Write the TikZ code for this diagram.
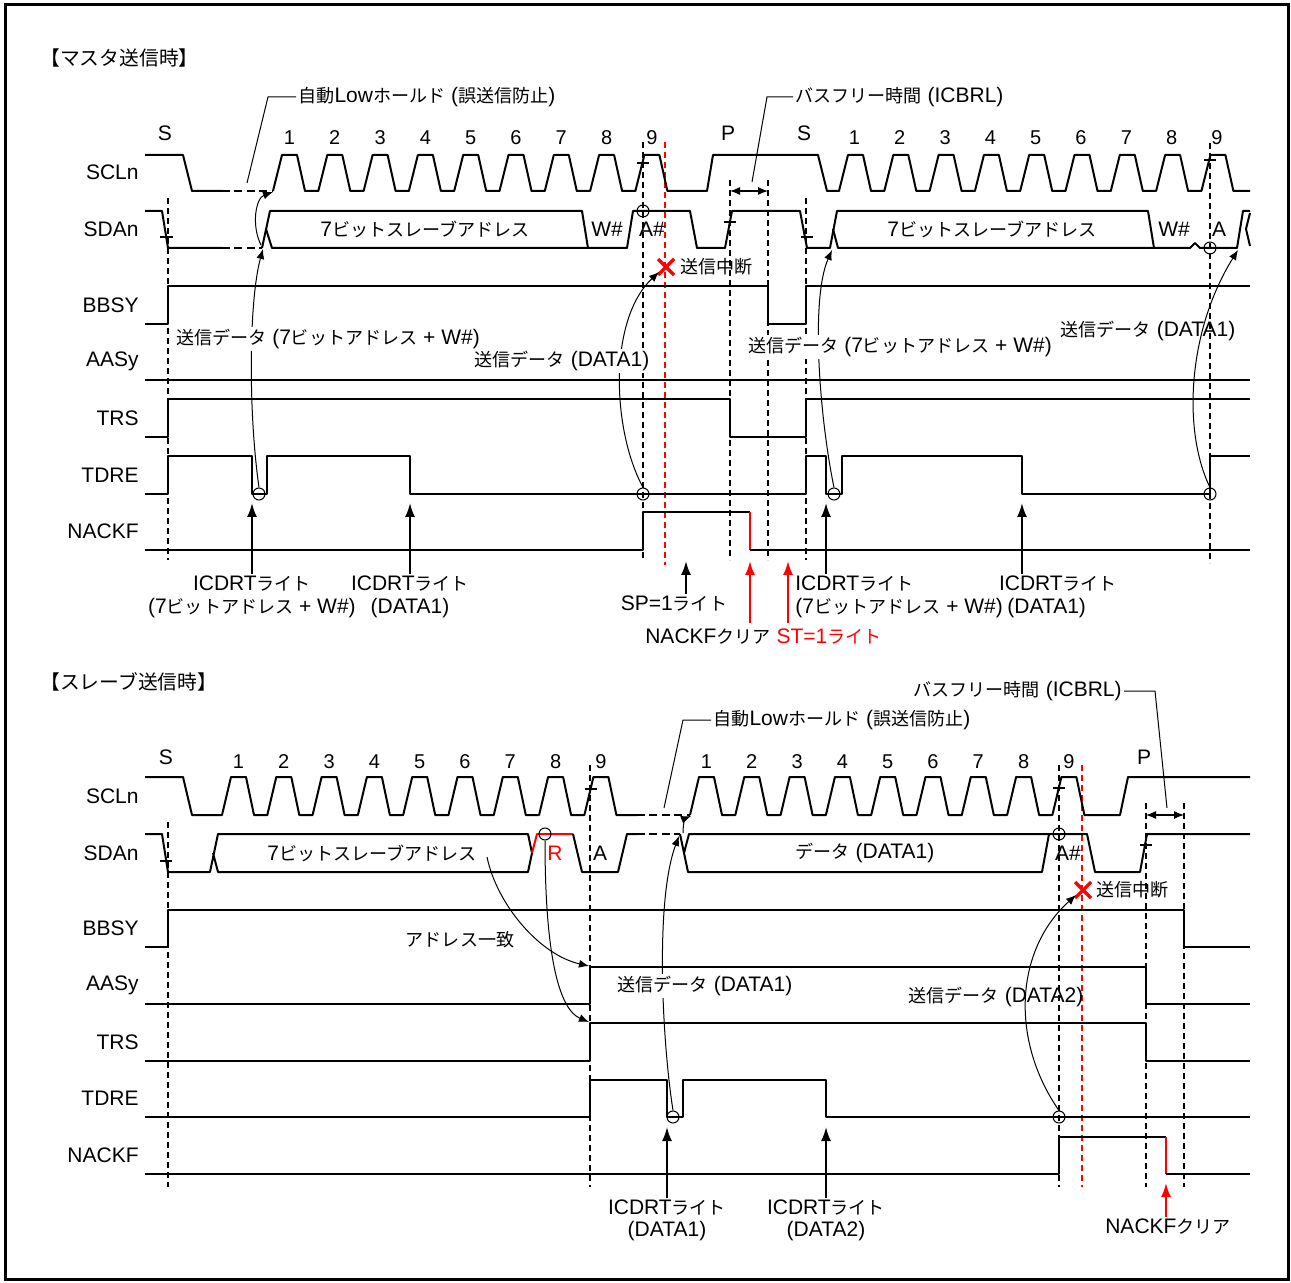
\documentclass[tikz,border=0pt]{standalone}
\usepackage{fontspec}
\setmainfont{Liberation Sans}
\newfontfamily\jpfont[Scale=0.86]{Noto Sans CJK JP}
\newcommand\jp[1]{{\jpfont #1}}
\usetikzlibrary{arrows.meta,positioning}

\begin{document}
\begin{tikzpicture}[x=0.5pt,y=-0.5pt,
		sig/.style={line width=1pt,line join=round},
		hold/.style={line width=1.2pt,dash pattern=on 4pt off 2.2pt},
		guide/.style={line width=0.8pt,dash pattern=on 3pt off 2pt},
		redguide/.style={guide,red},
		lead/.style={line width=0.5pt},
		note/.style={lead,-{Latex[length=5pt,width=4pt]}},
		bfree/.style={line width=0.6pt,{Latex[length=5pt,width=4pt]}-{Latex[length=5pt,width=4pt]}},
		write/.style={line width=1pt,-{Latex[length=7pt,width=5pt]}},
		tickline/.style={line width=0.6pt},
		cut/.style={red,line width=1.6pt},
		hit/.style={circle,draw,line width=0.5pt,minimum size=6pt,inner sep=0pt},
		lbl/.style={font=\fontsize{10.5}{12}\selectfont,inner sep=1pt},
		num/.style={lbl,font=\fontsize{10}{12}\selectfont},
		ttl/.style={lbl,anchor=west,font=\fontsize{11.5}{13}\selectfont},
		signame/.style={lbl,anchor=east},
		hide/.style={lbl,fill=white}]
	\useasboundingbox (0,0) rectangle (1291,1283);
	\draw[line width=1.5pt] (5,5) rectangle (1288,1279);

	\node[ttl] (master) at (38,58) {\jp{【マスタ送信時】}};
	\node[ttl] (slave) at (38,682) {\jp{【スレーブ送信時】}};
	\foreach \s/\y in {SCLn/172,SDAn/229,BBSY/305,AASy/361,TRS/418,TDRE/475,NACKF/531}
		\node[signame] (m\s) at (141,\y) {\s};
	\foreach \s/\y in {SCLn/796,SDAn/853,BBSY/928,AASy/985,TRS/1042,TDRE/1098,NACKF/1155}
		\node[signame] (s\s) at (141,\y) {\s};

	\coordinate (sdaA) at (263,249);
	\coordinate (sdaA0) at (261,245);
	\coordinate (sclA) at (273,192);
	\coordinate (stopA) at (659,272);
	\coordinate (sdaB) at (832,250);
	\coordinate (sdaC) at (1238,250);
	\coordinate (freeA1) at (730,191);
	\coordinate (freeA2) at (768,191);
	\coordinate (aasyR) at (589,966);
	\coordinate (trsR) at (589,1022);
	\coordinate (addrEnd) at (487,857);
	\coordinate (sdaD) at (679,836);
	\coordinate (sdaD0) at (683,833);
	\coordinate (sclD) at (691,816);
	\coordinate (stopB) at (1076,895);
	\coordinate (freeB1) at (1146,815);
	\coordinate (freeB2) at (1184,815);

	\draw[guide] (168,198) -- (168,560);
	\draw[guide] (643,142) -- (643,560);
	\draw[redguide] (665,142) -- (665,565);
	\draw[guide] (730,180) -- (730,560);
	\draw[guide] (768,180) -- (768,560);
	\draw[guide] (806,198) -- (806,560);
	\draw[guide] (1210,143) -- (1210,563);

	\draw[sig] (145,155) -- (183,155) -- (192,191) -- (222,191);
	\draw[hold] (222,191) -- (273,191);
	\draw[sig] (273,191) \foreach \k in {1,...,9} {-- ++(9,-36) -- ++(15,0) -- ++(8,36) -- ++(13.3,0)}
		-- (707,191) -- (713,155) -- (818,155) -- (827,191) -- (839,191)
		\foreach \k in {1,...,9} {-- ++(9,-36) -- ++(15,0) -- ++(8,36) -- ++(13.3,0)} -- (1250,191);
	\foreach \k in {1,...,9} {
		\node[num] (na\k) at ({289.5+45.3*(\k-1)},138) {\k};
		\node[num] (nb\k) at ({854.5+45.3*(\k-1)},138) {\k};
	}
	\node[lbl] (sA) at (165,133) {S};
	\node[lbl] (pA) at (728,133) {P};
	\node[lbl] (sB) at (804,133) {S};

	\draw[sig] (145,211) -- (162,211) -- (168,248) -- (222,248);
	\draw[hold] (222,248) -- (262,248);
	\draw[sig] (262,248) -- (270,211) -- (582,211) -- (588,248);
	\draw[sig] (266,229) -- (272,248) -- (627,248) -- (633,211) -- (690,211) -- (697,248) -- (725,248) -- (732,211)
		-- (800,211) -- (807,248) -- (830,248) -- (837,211) -- (1148,211) -- (1154,248);
	\draw[sig] (833,229) -- (838,248) -- (1190,248) -- (1195,243) -- (1200,248) -- (1237,248) -- (1243,211) -- (1250,211);
	\draw[sig] (1250,213) -- (1246,229) -- (1250,246);
	\node[lbl] (addrA) at (425,229) {7\jp{ビットスレーブアドレス}};
	\node[lbl] (wA) at (607,229) {W\#};
	\node[lbl] (ackA) at (652,229) {A\#};
	\node[lbl] (addrB) at (992,229) {7\jp{ビットスレーブアドレス}};
	\node[lbl] (wB) at (1174,229) {W\#};
	\node[lbl] (ackB) at (1219,229) {A};

	\draw[tickline] (637,163) -- (649,163) (1204,160) -- (1216,160);
	\draw[tickline] (160,237) -- (173,237) (724,222) -- (736,222) (801,237) -- (813,237);

	\draw[sig] (145,324) -- (168,324) -- (168,286) -- (768,286) -- (768,324) -- (806,324) -- (806,286) -- (1250,286);
	\draw[sig] (145,380) -- (1250,380);
	\draw[sig] (145,437) -- (168,437) -- (168,399) -- (730,399) -- (730,437) -- (806,437) -- (806,399) -- (1250,399);
	\draw[sig] (145,494) -- (168,494) -- (168,456) -- (252,456) -- (252,494) -- (267,494) -- (267,456) -- (410,456)
		-- (410,494) -- (806,494) -- (806,456) -- (826,456) -- (826,494) -- (842,494) -- (842,456) -- (1022,456)
		-- (1022,494) -- (1210,494) -- (1210,456) -- (1250,456);
	\draw[sig] (145,550) -- (643,550) -- (643,512) -- (750,512);
	\draw[sig,red] (750,512) -- (750,550);
	\draw[sig] (750,550) -- (1250,550);

	\node[hit] (h1) at (259,494) {};
	\node[hit] (h2) at (643,211) {};
	\node[hit] (h3) at (643,494) {};
	\node[hit] (h4) at (834,494) {};
	\node[hit] (h5) at (1210,248) {};
	\node[hit] (h6) at (1210,494) {};

	\draw[cut] (658,259) -- (674,275) (658,275) -- (674,259);
	\node[lbl,anchor=west] (abortA) at (678,267) {\jp{送信中断}};

	\node[lbl,anchor=west] (holdA) at (296,97) {\jp{自動}Low\jp{ホールド} (\jp{誤送信防止})};
	\draw[lead] (holdA.west) -- (268,97) -- (247,183);
	\node[lbl,anchor=west] (freeA) at (793,97) {\jp{バスフリー時間} (ICBRL)};
	\draw[lead] (freeA.west) -- (767,97) -- (752,182);
	\draw[bfree] (freeA1) -- (freeA2);

	\draw[note] (h1.north) .. controls (248,410) and (249,300) .. (sdaA);
	\draw[note] (sdaA0) .. controls (251,225) and (256,198) .. (sclA);
	\draw[note] (h3.north) .. controls (612,430) and (608,320) .. (stopA);
	\draw[note] (h4.north) .. controls (820,420) and (810,300) .. (sdaB);
	\draw[note] (h6.north) .. controls (1182,430) and (1188,330) .. (sdaC);
	\node[hide] (txA) at (328,339) {\jp{送信データ} (7\jp{ビットアドレス} + W\#)};
	\node[hide] (txB) at (562,361) {\jp{送信データ} (DATA1)};
	\node[hide] (txC) at (900,347) {\jp{送信データ} (7\jp{ビットアドレス} + W\#)};
	\node[lbl] (txD) at (1148,331) {\jp{送信データ} (DATA1)};

	\node[lbl] (wrA) at (252,584) {ICDRT\jp{ライト}};
	\node[lbl] (wrA2) at (252,608) {(7\jp{ビットアドレス} + W\#)};
	\node[lbl] (wrB) at (410,584) {ICDRT\jp{ライト}};
	\node[lbl] (wrB2) at (410,608) {(DATA1)};
	\node[lbl] (spw) at (674,604) {SP=1\jp{ライト}};
	\node[lbl] (nkA) at (708,637) {NACKF\jp{クリア}};
	\node[lbl,red] (stw) at (829,637) {ST=1\jp{ライト}};
	\node[lbl,anchor=west] (wrC) at (793,584) {ICDRT\jp{ライト}};
	\node[lbl,anchor=west] (wrC2) at (793,608) {(7\jp{ビットアドレス} + W\#)};
	\node[lbl] (wrD) at (1058,584) {ICDRT\jp{ライト}};
	\node[lbl,anchor=west] (wrD2) at (1005,608) {(DATA1)};
	\coordinate (tA) at (252,503);
	\coordinate (tB) at (410,503);
	\coordinate (tC) at (826,503);
	\coordinate (tD) at (1022,503);
	\draw[write] (wrA.north) -- (tA);
	\draw[write] (wrB.north) -- (tB);
	\draw[write] (wrC.north -| tC) -- (tC);
	\draw[write] (wrD.north -| tD) -- (tD);
	\draw[write] (spw.north -| 686,0) -- (686,561);
	\draw[write,red] (750,623) -- (750,561);
	\draw[write,red] (788,623) -- (788,561);

	\draw[guide] (168,822) -- (168,1187);
	\draw[guide] (590,765) -- (590,1187);
	\draw[guide] (1059,765) -- (1059,1187);
	\draw[redguide] (1082,765) -- (1082,1187);
	\draw[guide] (1146,803) -- (1146,1187);
	\draw[guide] (1184,803) -- (1184,1187);

	\draw[sig] (145,777) -- (183,777) -- (192,815) -- (222,815)
		\foreach \k in {1,...,9} {-- ++(9,-38) -- ++(15,0) -- ++(8,38) -- ++(13.3,0)} -- (637,815);
	\draw[hold] (637,815) -- (690,815);
	\draw[sig] (690,815) \foreach \k in {1,...,9} {-- ++(9,-38) -- ++(15,0) -- ++(8,38) -- ++(13.3,0)}
		-- (1120,815) -- (1128,777) -- (1250,777);
	\foreach \k in {1,...,9} {
		\node[num] (nc\k) at ({238.5+45.3*(\k-1)},762) {\k};
		\node[num] (nd\k) at ({706.5+45.3*(\k-1)},762) {\k};
	}
	\node[lbl] (sC) at (166,757) {S};
	\node[lbl] (pC) at (1144,757) {P};

	\draw[sig] (145,834) -- (162,834) -- (168,872) -- (210,872) -- (218,834) -- (528,834) -- (532,853) -- (528,872)
		-- (218,872) -- (213,853);
	\draw[sig,red] (532,853) -- (537,834) -- (573,834);
	\draw[sig] (573,834) -- (582,872) -- (618,872) -- (627,834) -- (637,834);
	\draw[hold] (637,834) -- (680,834);
	\draw[sig] (680,834) -- (688,872) -- (1042,872) -- (1049,834);
	\draw[sig] (684,853) -- (689,834) -- (1087,834) -- (1095,872) -- (1140,872) -- (1147,834) -- (1250,834);
	\node[lbl] (addrC) at (372,853) {7\jp{ビットスレーブアドレス}};
	\node[lbl,red] (rd) at (555,853) {R};
	\node[lbl] (ackC) at (600,853) {A};
	\node[lbl] (data) at (865,853) {\jp{データ} (DATA1)};
	\node[lbl] (ackD) at (1068,853) {A\#};

	\draw[tickline] (585,789) -- (597,789) (1053,788) -- (1065,788);
	\draw[tickline] (160,861) -- (172,861) (1140,845) -- (1152,845);

	\draw[sig] (145,947) -- (168,947) -- (168,910) -- (1184,910) -- (1184,947) -- (1250,947);
	\draw[sig] (145,1004) -- (590,1004) -- (590,967) -- (1146,967) -- (1146,1004) -- (1250,1004);
	\draw[sig] (145,1061) -- (590,1061) -- (590,1023) -- (1146,1023) -- (1146,1061) -- (1250,1061);
	\draw[sig] (145,1117) -- (590,1117) -- (590,1080) -- (667,1080) -- (667,1117) -- (683,1117) -- (683,1080)
		-- (826,1080) -- (826,1117) -- (1250,1117);
	\draw[sig] (145,1174) -- (1059,1174) -- (1059,1137) -- (1166,1137);
	\draw[sig,red] (1166,1137) -- (1166,1174);
	\draw[sig] (1166,1174) -- (1250,1174);

	\node[hit] (h7) at (545,834) {};
	\node[hit] (h8) at (673,1117) {};
	\node[hit] (h9) at (1059,834) {};
	\node[hit] (h10) at (1059,1117) {};

	\draw[cut] (1075,882) -- (1091,898) (1075,898) -- (1091,882);
	\node[lbl,anchor=west] (abortB) at (1094,890) {\jp{送信中断}};

	\node[lbl,anchor=west] (holdB) at (711,720) {\jp{自動}Low\jp{ホールド} (\jp{誤送信防止})};
	\draw[lead] (holdB.west) -- (683,720) -- (664,808);
	\node[lbl,anchor=east] (freeB) at (1124,691) {\jp{バスフリー時間} (ICBRL)};
	\draw[lead] (freeB.east) -- (1155,691) -- (1167,808);
	\draw[bfree] (freeB1) -- (freeB2);

	\draw[note] (addrEnd) .. controls (497,905) and (540,955) .. (aasyR);
	\draw[note] (h7.south) .. controls (545,960) and (560,1010) .. (trsR);
	\draw[note] (h8.north) .. controls (662,1040) and (655,900) .. (sdaD);
	\draw[note] (sdaD0) .. controls (683,822) and (686,818) .. (sclD);
	\draw[note] (h10.north) .. controls (1010,1040) and (1015,950) .. (stopB);
	\node[lbl] (match) at (460,940) {\jp{アドレス一致}};
	\node[hide] (txE) at (705,986) {\jp{送信データ} (DATA1)};
	\node[lbl] (txF) at (996,997) {\jp{送信データ} (DATA2)};

	\node[lbl] (wrE) at (667,1208) {ICDRT\jp{ライト}};
	\node[lbl] (wrE2) at (667,1231) {(DATA1)};
	\node[lbl] (wrF) at (826,1208) {ICDRT\jp{ライト}};
	\node[lbl] (wrF2) at (826,1231) {(DATA2)};
	\node[lbl] (nkB) at (1168,1227) {NACKF\jp{クリア}};
	\coordinate (tE) at (667,1127);
	\coordinate (tF) at (826,1127);
	\coordinate (tG) at (1166,1183);
	\draw[write] (wrE.north) -- (tE);
	\draw[write] (wrF.north) -- (tF);
	\draw[write,red] (nkB.north -| tG) -- (tG);
\end{tikzpicture}
\end{document}
